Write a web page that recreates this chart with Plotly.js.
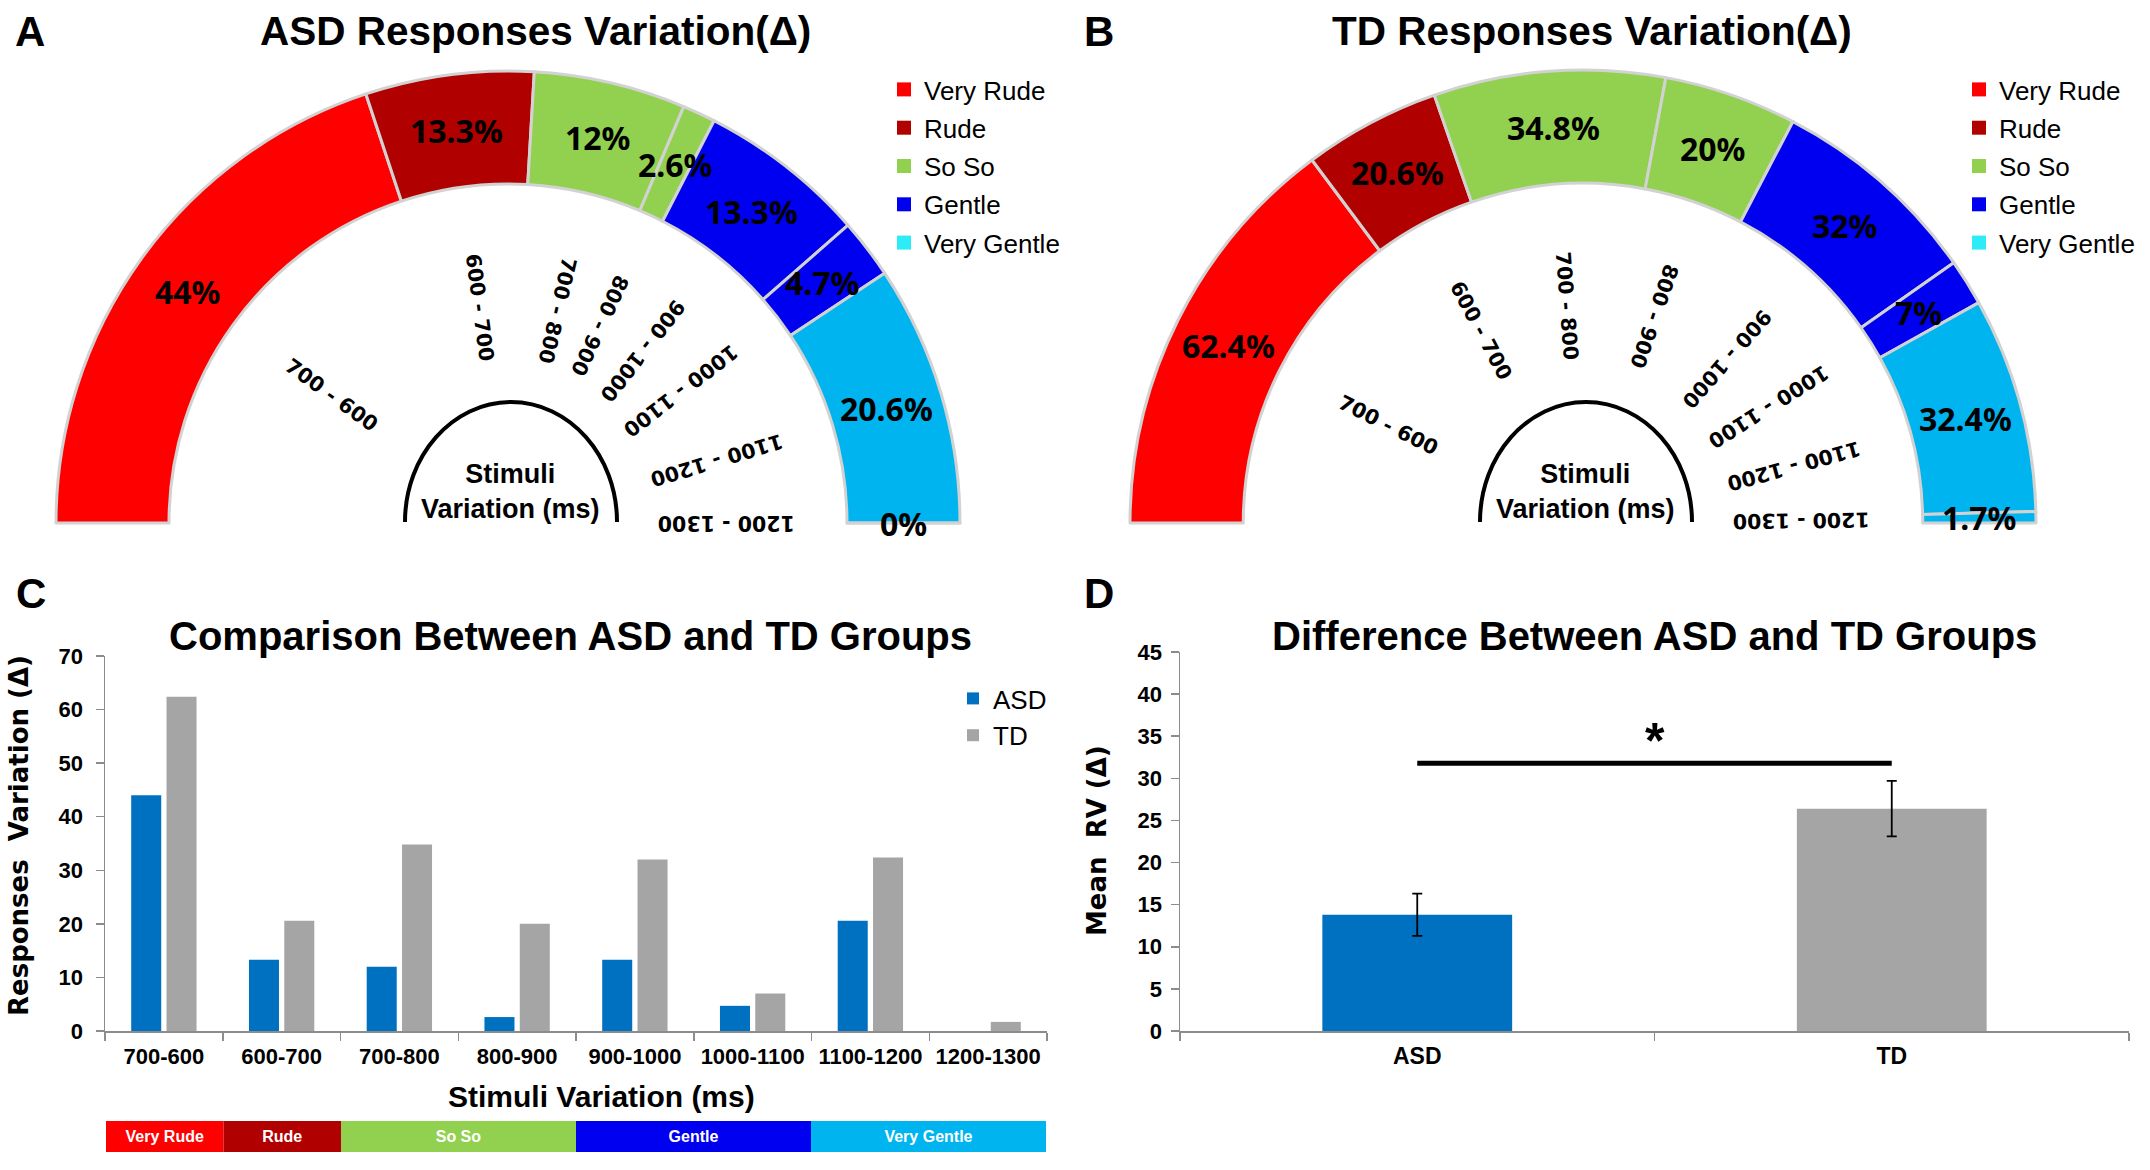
<!DOCTYPE html>
<html>
<head>
<meta charset="utf-8">
<script src="https://cdn.plot.ly/plotly-3.0.1.min.js"></script>
<style>html,body{margin:0;padding:0;background:#fff;}</style>
</head>
<body>
<div id="chart" style="width:2150px;height:1170px;"></div>
<script>
// ---------------- DATA ----------------
const stimuliCategories = ['700 - 600','600 - 700','700 - 800','800 - 900','900 - 1000','1000 - 1100','1100 - 1200','1200 - 1300'];
const barCategories = ['700-600','600-700','700-800','800-900','900-1000','1000-1100','1100-1200','1200-1300'];
const categoryGroup = ['Very Rude','Rude','So So','So So','Gentle','Gentle','Very Gentle','Very Gentle'];
const groupNames = ['Very Rude','Rude','So So','Gentle','Very Gentle'];
const asdValues = [44, 13.3, 12, 2.6, 13.3, 4.7, 20.6, 0];
const tdValues = [62.4, 20.6, 34.8, 20, 32, 7, 32.4, 1.7];
const groupLabels = ['ASD','TD'];
const meanRV = [13.8, 26.4];
const meanRVError = [2.5, 3.3];
const significanceLevel = [31.8];

// ---------------- STYLE ----------------
const W = 2150, H = 1170;
const groupColors = ['#FF0000','#B00000','#92D050','#0000F0','#00B4F0'];
const legendSwatchColors = ['#FF0000','#B00000','#92D050','#0000F0','#2EEBF8'];
const asdColor = '#0070C0', tdColor = '#A5A5A5';
const sans = 'Liberation Sans, Arial, sans-serif';
const wide = 'DejaVu Sans, Verdana, sans-serif';
const round = 'Noto Sans, Open Sans, sans-serif';
const axisLine = '#8c8c8c';
const px = x => x / W;
const py = y => 1 - y / H;

const traces = [];
const annotations = [];
const shapes = [];

function colorOf(group) { return groupColors[groupNames.indexOf(group)]; }

// ---------------- GAUGES (A, B) ----------------
const gauges = [
  {values: asdValues, cx: 508, cy: 523, R: 452, hole: 0.75, title: 'ASD Responses Variation(Δ)', titleX: 535, letter: 'A', letterX: 30},
  {values: tdValues,  cx: 1583, cy: 523, R: 453, hole: 0.75, title: 'TD Responses Variation(Δ)', titleX: 1592, letter: 'B', letterX: 1099}
];

gauges.forEach(g => {
  const total = g.values.reduce((a, b) => a + b, 0);
  const n = g.values.length;
  traces.push({
    type: 'pie',
    values: g.values.concat([total]),
    labels: stimuliCategories.concat(['']),
    sort: false,
    direction: 'clockwise',
    rotation: -90,
    hole: g.hole,
    domain: {x: [px(g.cx - g.R), px(g.cx + g.R)], y: [py(g.cy + g.R), py(g.cy - g.R)]},
    marker: {
      colors: categoryGroup.map(colorOf).concat(['rgba(0,0,0,0)']),
      line: {color: Array(n).fill('#d2d2d2').concat(['rgba(0,0,0,0)']), width: Array(n).fill(3).concat([0])}
    },
    textinfo: 'none',
    hoverinfo: 'skip',
    showlegend: false
  });
  // labels derived from the slice geometry
  let cum = 0;
  const rMid = g.R * (1 + g.hole) / 2;
  const rLab = g.R * 0.482;
  g.values.forEach((v, i) => {
    const frac = (cum + v / 2) / total;
    cum += v;
    const ang = Math.PI * (1 - frac);
    annotations.push({
      xref: 'paper', yref: 'paper', showarrow: false,
      x: px(g.cx + rMid * Math.cos(ang)), y: py(g.cy - rMid * Math.sin(ang)),
      xanchor: 'center', yanchor: 'middle',
      text: v + '%',
      font: {family: round, size: 32, color: '#000', weight: 'bold'}
    });
    annotations.push({
      xref: 'paper', yref: 'paper', showarrow: false,
      x: px(g.cx + rLab * Math.cos(ang)), y: py(g.cy - rLab * Math.sin(ang)),
      xanchor: 'center', yanchor: 'middle',
      textangle: 180 - ang * 180 / Math.PI,
      text: stimuliCategories[i],
      font: {family: wide, size: 20.5, color: '#000', weight: 'bold'}
    });
  });
  // central arch
  const ax = g.cx + 3, ay = g.cy - 1, rx = 106, ry = 120, k = 0.5523;
  const P = (x, y) => px(x).toFixed(5) + ',' + py(y).toFixed(5);
  shapes.push({
    type: 'path', xref: 'paper', yref: 'paper',
    path: 'M' + P(ax - rx, ay) + ' C' + P(ax - rx, ay - k * ry) + ' ' + P(ax - k * rx, ay - ry) + ' ' + P(ax, ay - ry) +
          ' C' + P(ax + k * rx, ay - ry) + ' ' + P(ax + rx, ay - k * ry) + ' ' + P(ax + rx, ay),
    line: {color: '#000', width: 4}
  });
  annotations.push({
    xref: 'paper', yref: 'paper', showarrow: false,
    x: px(g.cx + 2), y: py(491), xanchor: 'center', yanchor: 'middle',
    text: 'Stimuli<br>Variation (ms)',
    font: {family: sans, size: 27, color: '#000', weight: 'bold'}
  });
  annotations.push({
    xref: 'paper', yref: 'paper', showarrow: false,
    x: px(g.titleX), y: py(31), xanchor: 'center', yanchor: 'middle',
    text: g.title, font: {family: sans, size: 40.5, color: '#000', weight: 'bold'}
  });
  annotations.push({
    xref: 'paper', yref: 'paper', showarrow: false,
    x: px(g.letterX), y: py(31), xanchor: 'center', yanchor: 'middle',
    text: g.letter, font: {family: sans, size: 42, color: '#000', weight: 'bold'}
  });
});

// legends for A and B (category colour key)
['legend', 'legend2'].forEach((lg, li) => {
  groupNames.forEach((name, i) => {
    traces.push({
      type: 'scatter', mode: 'markers', x: [null], y: [null], xaxis: 'x3', yaxis: 'y3',
      name: name, legend: lg, legendgroup: lg + i,
      marker: {symbol: 'square', size: 14, color: legendSwatchColors[i]},
      hoverinfo: 'skip'
    });
  });
});

// ---------------- PANEL C ----------------
traces.push({
  type: 'bar', x: barCategories, y: asdValues, name: 'ASD',
  marker: {color: asdColor}, legend: 'legend3', xaxis: 'x', yaxis: 'y'
});
traces.push({
  type: 'bar', x: barCategories, y: tdValues, name: 'TD',
  marker: {color: tdColor}, legend: 'legend3', xaxis: 'x', yaxis: 'y'
});

// colour band under C
const spans = groupNames.map(gn => categoryGroup.filter(c => c === gn).length);
const bases = spans.map((s, i) => spans.slice(0, i).reduce((a, b) => a + b, 0));
traces.push({
  type: 'bar', orientation: 'h', xaxis: 'x3', yaxis: 'y3',
  y: groupNames.map(() => 'band'), x: spans, base: bases, width: 1,
  marker: {color: groupColors, line: {width: 0}},
  text: groupNames, textposition: 'inside', insidetextanchor: 'middle',
  textfont: {family: sans, size: 16, color: '#ffffff', weight: 'bold'},
  showlegend: false, hoverinfo: 'skip'
});

// ---------------- PANEL D ----------------
traces.push({
  type: 'bar', x: groupLabels, y: meanRV, width: 0.4, xaxis: 'x2', yaxis: 'y2',
  marker: {color: [asdColor, tdColor]},
  error_y: {type: 'data', array: meanRVError, visible: true, color: '#000', thickness: 1.8, width: 5},
  showlegend: false
});
traces.push({
  type: 'scatter', mode: 'lines', x: groupLabels, y: groupLabels.map(() => significanceLevel[0]),
  xaxis: 'x2', yaxis: 'y2', line: {color: '#000', width: 5}, showlegend: false, hoverinfo: 'skip'
});
annotations.push({
  xref: 'x2', yref: 'y2', x: 0.5, y: significanceLevel[0] + 2.6, showarrow: false,
  xanchor: 'center', yanchor: 'middle', text: '*',
  font: {family: sans, size: 50, color: '#000', weight: 'bold'}
});

// titles and labels for C and D
[
  {t: 'C', x: 31, y: 593, s: 42, f: sans},
  {t: 'D', x: 1099, y: 593, s: 42, f: sans},
  {t: 'Comparison Between ASD and TD Groups', x: 570, y: 636, s: 40, f: sans},
  {t: 'Difference Between ASD and TD Groups', x: 1654, y: 636, s: 40, f: sans},
  {t: 'Stimuli Variation (ms)', x: 601, y: 1096, s: 30, f: sans}
].forEach(a => annotations.push({
  xref: 'paper', yref: 'paper', showarrow: false, x: px(a.x), y: py(a.y),
  xanchor: 'center', yanchor: 'middle', text: a.t,
  font: {family: a.f, size: a.s, color: '#000', weight: 'bold'}
}));
[
  {t: 'Responses  Variation (Δ)', x: 19, y: 836},
  {t: 'Mean  RV (Δ)', x: 1097, y: 841}
].forEach(a => annotations.push({
  xref: 'paper', yref: 'paper', showarrow: false, x: px(a.x), y: py(a.y),
  xanchor: 'center', yanchor: 'middle', textangle: -90, text: a.t,
  font: {family: wide, size: 26, color: '#000', weight: 'bold'}
}));

// ---------------- LAYOUT ----------------
const tickFont = {family: sans, size: 22, color: '#000', weight: 'bold'};
const baseAxis = {
  showline: true, linecolor: axisLine, linewidth: 1.5, ticks: 'outside', ticklen: 8,
  tickcolor: axisLine, tickwidth: 1.5, showgrid: false, zeroline: false, tickfont: tickFont
};
const legendBase = {xanchor: 'left', yanchor: 'top', bgcolor: 'rgba(0,0,0,0)', traceorder: 'grouped', itemclick: false, itemdoubleclick: false};

const layout = {
  width: W, height: H,
  margin: {l: 0, r: 0, t: 0, b: 0},
  paper_bgcolor: '#fff', plot_bgcolor: 'rgba(0,0,0,0)',
  barmode: 'group', bargap: 0.4, bargroupgap: 0.15,
  font: {family: sans, color: '#000'},
  xaxis: Object.assign({}, baseAxis, {domain: [px(105), px(1047)], anchor: 'y', type: 'category', tickson: 'boundaries', ticklabelstandoff: 5}),
  yaxis: Object.assign({}, baseAxis, {domain: [py(1031), py(656)], anchor: 'x', range: [0, 70], dtick: 10, ticklabelstandoff: 8}),
  xaxis2: Object.assign({}, baseAxis, {domain: [px(1180), px(2129)], anchor: 'y2', type: 'category', tickson: 'boundaries', ticklabelstandoff: 4, tickfont: {family: sans, size: 23, color: '#000', weight: 'bold'}}),
  yaxis2: Object.assign({}, baseAxis, {domain: [py(1031), py(652)], anchor: 'x2', range: [0, 45], dtick: 5, ticklabelstandoff: 4}),
  xaxis3: {domain: [px(106), px(1046)], anchor: 'y3', range: [0, 8], visible: false, fixedrange: true},
  yaxis3: {domain: [py(1152), py(1121)], anchor: 'x3', type: 'category', range: [-0.5, 0.5], visible: false, fixedrange: true},
  legend: Object.assign({}, legendBase, {x: px(884), y: py(66), font: {family: sans, size: 26, color: '#000'}, tracegroupgap: 1.5}),
  legend2: Object.assign({}, legendBase, {x: px(1959), y: py(66), font: {family: sans, size: 26, color: '#000'}, tracegroupgap: 1.5}),
  legend3: Object.assign({}, legendBase, {x: px(953), y: py(675), font: {family: sans, size: 26, color: '#000'}, traceorder: 'normal'}),
  annotations: annotations,
  shapes: shapes
};

Plotly.newPlot('chart', traces, layout, {displayModeBar: false, staticPlot: true});
</script>
</body>
</html>
